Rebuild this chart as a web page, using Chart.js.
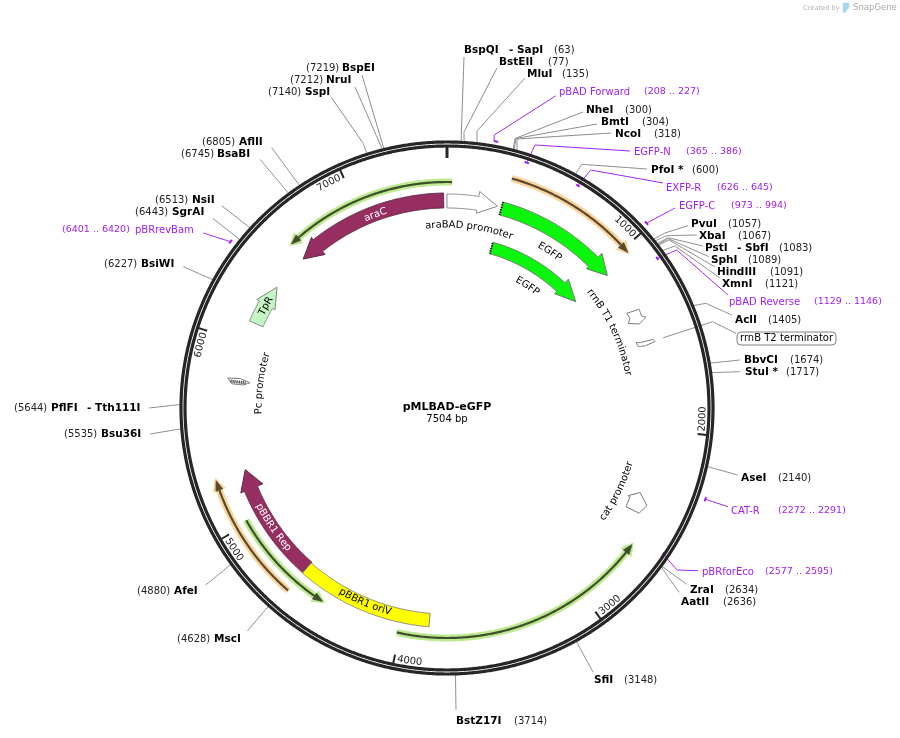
<!DOCTYPE html>
<html><head><meta charset="utf-8">
<style>html,body{margin:0;padding:0;background:#fff}canvas{display:block}</style>
<script src="https://cdn.jsdelivr.net/npm/chart.js@4"></script>
</head><body><canvas id="c" width="900" height="738"></canvas>
<script>
// ---------- values ----------
const plasmidName = 'pMLBAD-eGFP';
const plasmidLength = 7504;
const tickValues = [1000,2000,3000,4000,5000,6000,7000];

const siteNames = ['BspQI','BstEII','MluI','NheI','BmtI','NcoI','PfoI *','PvuI','XbaI','PstI','SphI','HindIII','XmnI','AclI','BbvCI','StuI *','AseI','ZraI','AatII','SfiI','BstZ17I','MscI','AfeI','Bsu36I','PflFI','BsiWI','SgrAI','NsiI','BsaBI','AflII','SspI','NruI','BspEI'];
const sitePositions = [63,77,135,300,304,318,600,1057,1067,1083,1089,1091,1121,1405,1674,1717,2140,2634,2636,3148,3714,4628,4880,5535,5644,6227,6443,6513,6745,6805,7140,7212,7219];
const siteSecondNames = {BspQI:'- SapI',PstI:'- SbfI',PflFI:'- Tth111I'};

const primerNames = ['pBAD Forward','EGFP-N','EXFP-R','EGFP-C','pBAD Reverse','CAT-R','pBRforEco','pBRrevBam'];
const primerStarts = [208,365,626,973,1129,2272,2577,6401];
const primerEnds = [227,386,645,994,1146,2291,2595,6420];

const solidFeatureNames = ['araBAD promoter','EGFP','EGFP','araC','pBBR1 Rep','pBBR1 oriV','TpR'];
const solidFeatureStarts = [0,317,323,7485,4611,3850,6124];
const solidFeatureHeads = [179,938,902,6703,5161,null,6247];
const solidFeatureEnds = [293,1052,1052,6587,5274,4611,6366];

const thinFeatureStarts = [329,27,4607,5019,4015];
const thinFeatureEnds = [1026,-905,5263,4436,2637];

// ---------- layout / style ----------
const CX = 447, CY = 408;
const solidStyle = [
 {rIn:200,rOut:214,hIn:197,hOut:219,fill:'#ffffff',line:'#808080',text:'#000',labelBp:146,labelR:184},
 {rIn:200,rOut:213.5,hIn:197,hOut:219,fill:'#0cf50c',line:'#707070',text:'#000',labelBp:694,labelR:188,dots:true},
 {rIn:160,rOut:172,hIn:157,hOut:177,fill:'#0cf50c',line:'#707070',text:'#000',labelBp:696,labelR:147,dots:true},
 {rIn:200,rOut:215,hIn:196,hOut:218,fill:'#962e62',line:'#5a2a44',text:'#fff',labelBp:7080,labelR:207},
 {rIn:205,rOut:219,hIn:199,hOut:223,fill:'#962e62',line:'#5a2a44',text:'#fff',labelBp:4910,labelR:211},
 {rIn:206,rOut:219.5,fill:'#ffff00',line:'#808080',text:'#000',labelBp:4228,labelR:211},
 {rIn:201,rOut:216,hIn:198,hOut:219,fill:'#c4f5c4',line:'#808080',text:'#000',labelBp:6240,labelR:208.6}
];
const thinStyle = [
 {r:238.5,halo:'#fbd49c',core:'#5a4a30'},
 {r:226,halo:'#bdea90',core:'#3f4f2c'},
 {r:242,halo:'#fbd49c',core:'#5a4a30'},
 {r:230,halo:'#bdea90',core:'#3f4f2c'},
 {r:230,halo:'#bdea90',core:'#3f4f2c'}
];
const smallNames = ['rrnB T1 terminator','cat promoter','Pc promoter'];
const smallLabelBp = [1355,2420,5785];
const smallLabelR = [185,190,189];
const smallShapes = [
 [[1297,203],[1309,216],[1349,215.3],[1365,218.7],[1384,209.8],[1355,200],[1332,203.8]],
 [[2478,204.4],[2415,203.5],[2415,201],[2369,210.8],[2419,222.5],[2474,219]],
 [[5790,221.3],[5797,209],[5780,198.6],[5762,205.3],[5762,216.3]],
 [[1478,200],[1486,203.7],[1492,217.4],[1507,218.3],[1513,207.5],[1505,200.9]]
];

const siteLeaders = {
 BspQI:[[464,57]],BstEII:[[464,132],[497,68]],MluI:[[477,131],[525,78]],NheI:[[515,138.5],[583,112]],BmtI:[[516,138.5],[597,124]],NcoI:[[517,139],[611,133]],
 'PfoI *':[[581.7,164.3],[647,169]],PvuI:[[665,233],[688,225.7]],XbaI:[[666.7,235.7],[696.7,235]],PstI:[[668,237.7],[703,246]],SphI:[[668.3,238.7],[709,256.7]],HindIII:[[669,240],[715,267]],XmnI:[[675,246],[720,278]],
 AclI:[[706,303.3],[731.7,315]],BbvCI:[[740,360]],'StuI *':[[740,371.7]],AseI:[[737.7,475]],ZraI:[[686.7,584.3]],AatII:[[668,577],[679.3,592.3]],SfiI:[[593,672]],BstZ17I:[[456,710]],
 MscI:[[247.3,631]],AfeI:[[205.7,585]],Bsu36I:[[150,434]],PflFI:[[149,408]],BsiWI:[[183.3,266.7]],SgrAI:[[212.7,218.3]],NsiI:[[221.7,205.7]],BsaBI:[[260,159.3]],AflII:[[271.7,147.7]],
 SspI:[[363,143],[331,97]],NruI:[[355,87]],BspEI:[[362,75]]
};
const siteText = {
 BspQI:[464,50,554,509],BstEII:[499,62,548],MluI:[527,74,562],NheI:[586,110,625],BmtI:[601,122,642],NcoI:[615,134,654],'PfoI *':[651,170,692],PvuI:[691,224,728],XbaI:[699,236,738],PstI:[705,248,779,737],SphI:[711,260,748],HindIII:[717,272,770],XmnI:[722,284,765],AclI:[735,320,768],BbvCI:[744,360,790],'StuI *':[745,372,786],AseI:[741,478,778],ZraI:[690,590,725],AatII:[681,602,723],SfiI:[594,680,624],BstZ17I:[456,721,514],
 MscI:[214,639,177],AfeI:[174,591,137],Bsu36I:[101,434,64],PflFI:[51,408,14,87],BsiWI:[141,264,104],SgrAI:[172,212,135],NsiI:[192,200,155],BsaBI:[217,154,181],AflII:[239,142,202],SspI:[305,92,268],NruI:[326,80,290],BspEI:[342,68,306]
};
const primerLeaders = [
 {r:271,bp:208,pts:[[494.3,135],[556,95.7]]},{r:258,pts:[[535,145],[630,151]]},{r:258,pts:[[590.7,170],[663,183]]},{r:272,pts:[[675,208]]},
 {r:258,pts:[[676.7,250],[728,295]]},{r:274,pts:[[728,506.7]]},{r:261,pts:[[677,570],[698,570.7]]},{r:273,pts:[[203,233]]}
];
const primerText = [[559,92,644],[634,152,686],[666,188,717],[679,206,731],[729,302,814],[731,511,778],[702,572,765],[135,230,62]];
const terminatorLeader = {bp:1501,r:227,pts:[[712.7,321.7],[736,333.3]]};

// ---------- geometry helpers ----------
const ang = bp => bp/plasmidLength*2*Math.PI;
const P = (bp,r) => ({x:CX+r*Math.sin(ang(bp)), y:CY-r*Math.cos(ang(bp))});
const arc = (a,b,r) => { const n=Math.max(2,Math.ceil(Math.abs(b-a)/12)), o=[]; for(let i=0;i<=n;i++) o.push(P(a+(b-a)*i/n,r)); return o; };
const xy = p => ({x:p[0],y:p[1]});

const ds = [];
const add = (pts,o) => ds.push(Object.assign({data:pts,showLine:true,pointRadius:0,tension:0.0001,fill:false,borderCapStyle:'butt',borderJoinStyle:'miter'},o));
const poly = (pts,fill,line,w) => add(pts.concat([pts[0]]),{fill:'shape',backgroundColor:fill,borderColor:line,borderWidth:w});

// leaders
siteNames.forEach((n,i)=> add([P(sitePositions[i],266)].concat(siteLeaders[n].map(xy)),{borderColor:'#8a8a8a',borderWidth:1}));
add([P(terminatorLeader.bp,terminatorLeader.r)].concat(terminatorLeader.pts.map(xy)),{borderColor:'#8a8a8a',borderWidth:1});
primerNames.forEach((n,i)=>{
  const L=primerLeaders[i], mid=L.bp!==undefined?L.bp:(primerStarts[i]+primerEnds[i])/2;
  add([P(mid,L.r)].concat(L.pts.map(xy)),{borderColor:'#a020f0',borderWidth:1});
  add(arc(primerStarts[i],primerEnds[i],L.r),{borderColor:'#a020f0',borderWidth:2});
});
// thin features
thinFeatureStarts.forEach((s,i)=>{
  const e=thinFeatureEnds[i], st=thinStyle[i], dir=e>s?1:-1, base=e-dir*48;
  add(arc(s,base,st.r),{borderColor:st.halo,borderWidth:7});
  poly([P(base,st.r+6.5),P(e+dir*12,st.r),P(base,st.r-6.5)],st.halo,st.halo,1);
  add(arc(s,base,st.r),{borderColor:st.core,borderWidth:2.2});
  poly([P(base,st.r+3.5),P(e,st.r),P(base,st.r-3.5)],st.core,st.core,1);
});
// solid features
solidFeatureNames.forEach((n,i)=>{
  const st=solidStyle[i], s=solidFeatureStarts[i], h=solidFeatureHeads[i], e=solidFeatureEnds[i];
  let pts;
  if(h===null) pts=arc(s,e,st.rOut).concat(arc(e,s,st.rIn));
  else pts=arc(s,h,st.rOut).concat([P(h,st.hOut),P(e,(st.hIn+st.hOut)/2),P(h,st.hIn)],arc(h,s,st.rIn));
  poly(pts,st.fill,st.line,1);
  if(st.dots) add([P(s,st.rIn),P(s,st.rOut)],{borderColor:'#000',borderWidth:2,borderDash:[1,1.5]});
});
// small features
smallShapes.forEach(sh=> poly(sh.map(p=>P(p[0],p[1])),'#ffffff','#707070',1));
add([P(5776,203),P(5776,218)],{borderColor:'#222',borderWidth:3,borderDash:[1,1]});
// ring
add(arc(0,plasmidLength,266),{borderColor:'#262626',borderWidth:3.2});
add(arc(0,plasmidLength,262),{borderColor:'#262626',borderWidth:3.2});
tickValues.forEach(t=> add([P(t,261),P(t,252)],{borderColor:'#262626',borderWidth:2}));
add([P(0,262),P(0,250)],{borderColor:'#262626',borderWidth:3});
// logo
poly([{x:843,y:3},{x:849,y:3},{x:849,y:7},{x:845,y:13},{x:843,y:12}],'#a8d8f0','#a8d8f0',0.5);
ds.forEach((d,i)=> d.order = ds.length-i);

const FONT='"DejaVu Sans"';
function txt(c,s,x,y,font,col,al){ c.font=font; c.fillStyle=col; c.textAlign=al||'left'; c.textBaseline='middle'; c.fillText(s,x,y); }
function arcText(c,s,bp,rMid,font,col){
  c.font=font; c.fillStyle=col; c.textAlign='center'; c.textBaseline='alphabetic';
  const a0=ang(bp), deg=(a0*180/Math.PI)%360, flip=deg>90&&deg<270;
  const r=flip?rMid+3.5:rMid-3.5, total=c.measureText(s).width;
  let off=-total/2;
  for(const ch of s){
    const w=c.measureText(ch).width, a=a0+(flip?-1:1)*(off+w/2)/r;
    c.save(); c.translate(CX+r*Math.sin(a),CY-r*Math.cos(a)); c.rotate(flip?a-Math.PI:a); c.fillText(ch,0,0); c.restore();
    off+=w;
  }
}
const labels = {
 id:'labels',
 afterDatasetsDraw(chart){
  const c=chart.ctx; c.save();
  const B='bold 10.5px '+FONT, R='10px '+FONT, PUR='#a020f0';
  siteNames.forEach((n,i)=>{
    const t=siteText[n]; txt(c,n,t[0],t[1],B,'#000'); txt(c,'('+sitePositions[i]+')',t[2],t[1],R,'#222');
    if(siteSecondNames[n]) txt(c,siteSecondNames[n],t[3],t[1],B,'#000');
  });
  primerNames.forEach((n,i)=>{
    const t=primerText[i]; txt(c,n,t[0],t[1],R,PUR);
    txt(c,'('+primerStarts[i]+' .. '+primerEnds[i]+')',t[2],t[1],'9.5px '+FONT,PUR);
  });
  solidFeatureNames.forEach((n,i)=> arcText(c,n,solidStyle[i].labelBp,solidStyle[i].labelR,'10px '+FONT,solidStyle[i].text));
  smallNames.forEach((n,i)=> arcText(c,n,smallLabelBp[i],smallLabelR[i],'10px '+FONT,'#000'));
  tickValues.forEach(t=> arcText(c,String(t),t-73,255,'10px '+FONT,'#222'));
  // boxed terminator label
  c.beginPath(); c.roundRect(737,332,99,13,4); c.fillStyle='#fff'; c.fill(); c.strokeStyle='#808080'; c.lineWidth=1; c.stroke();
  txt(c,'rrnB T2 terminator',740,338.5,R,'#000');
  txt(c,plasmidName,CX,407,'bold 11px '+FONT,'#000','center');
  txt(c,plasmidLength+' bp',CX,419,'10px '+FONT,'#000','center');
  txt(c,'Created by',803,8,'6.7px '+FONT,'#b5b5b5');
  txt(c,'SnapGene',853,7.5,'8.5px '+FONT,'#a8a8a8');
  c.restore();
 }
};
new Chart(document.getElementById('c'),{
 type:'scatter',
 data:{datasets:ds},
 options:{responsive:false,animation:false,devicePixelRatio:1,layout:{padding:0},
  plugins:{legend:{display:false},tooltip:{enabled:false},title:{display:false}},
  scales:{x:{type:'linear',min:0,max:900,display:false},y:{type:'linear',min:0,max:738,reverse:true,display:false}}},
 plugins:[labels]
});
</script></body></html>
